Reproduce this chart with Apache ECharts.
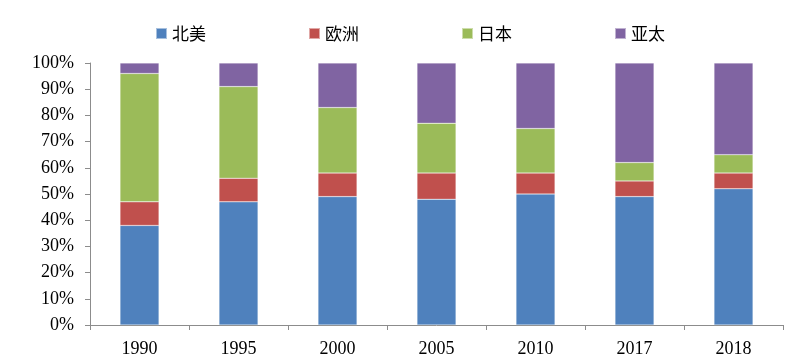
<!DOCTYPE html>
<html>
<head>
<meta charset="utf-8">
<script src="https://cdn.jsdelivr.net/npm/echarts@6/dist/echarts.min.js"></script>
<style>html,body{margin:0;padding:0;background:#fff}#c{width:800px;height:361px}</style>
</head>
<body>
<div id="c"></div>
<script>
var categories = ['1990','1995','2000','2005','2010','2017','2018'];
var northAmerica = [38, 47, 49, 48, 50, 49, 52];
var europe = [9, 9, 9, 10, 8, 6, 6];
var japan = [49, 35, 25, 19, 17, 7, 7];
var asiaPacific = [4, 9, 17, 23, 25, 38, 35];
var seriesNames = ['北美','欧洲','日本','亚太'];
var colors = ['#4F81BD','#C0504D','#9BBB59','#8064A2'];

var chart = echarts.init(document.getElementById('c'));
var dataSets = [northAmerica, europe, japan, asiaPacific];
chart.setOption({
  animation: false,
  color: colors,
  legend: {
    top: 20, left: 150,
    itemWidth: 11, itemHeight: 11, itemGap: 102,
    icon: 'rect',
    textStyle: {fontSize: 17, color: '#000', fontFamily: 'Noto Sans CJK SC'},
    data: seriesNames
  },
  grid: {left: 90, right: 17, top: 63, bottom: 36, containLabel: false},
  xAxis: {
    type: 'category', data: categories,
    axisLine: {lineStyle: {color: '#8c8c8c', width: 1}},
    axisTick: {show: true, length: 5, lineStyle: {color: '#8c8c8c'}},
    axisLabel: {fontSize: 18, color: '#000', fontFamily: 'Liberation Serif', margin: 15}
  },
  yAxis: {
    type: 'value', min: 0, max: 100, interval: 10,
    splitLine: {show: false},
    axisLine: {show: true, lineStyle: {color: '#8c8c8c', width: 1}},
    axisTick: {show: true, length: 5, lineStyle: {color: '#8c8c8c'}},
    axisLabel: {formatter: '{value}%', fontSize: 18, color: '#000', fontFamily: 'Liberation Serif', margin: 16}
  },
  series: seriesNames.map(function(n, i){
    return {
      name: n, type: 'bar', stack: 'total', barWidth: 39,
      itemStyle: {borderColor: 'rgba(255,255,255,0.5)', borderWidth: 0.5},
      data: dataSets[i]
    };
  })
});
</script>
</body>
</html>
